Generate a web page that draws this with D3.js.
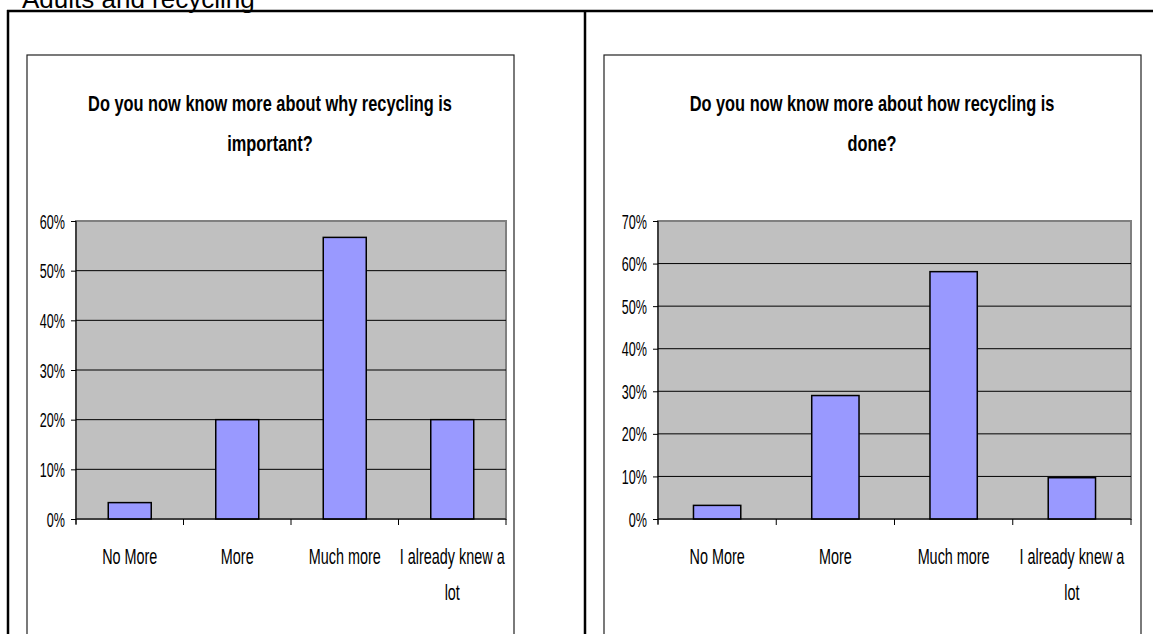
<!DOCTYPE html>
<html>
<head>
<meta charset="utf-8">
<script src="https://cdn.jsdelivr.net/npm/d3@7/dist/d3.min.js"></script>
<style>
  html, body { margin: 0; padding: 0; background: #fff; }
  svg { display: block; }
</style>
</head>
<body>
<svg id="chart" width="1153" height="634"></svg>
<script>
// ---- data ----
const pageHeading = "Adults and recycling";
const categories = ["No More", "More", "Much more", "I already knew a lot"];
const categoryLines = [["No More"], ["More"], ["Much more"], ["I already knew a", "lot"]];
const titleWhy = ["Do you now know more about why recycling is", "important?"];
const titleHow = ["Do you now know more about how recycling is", "done?"];
const valuesWhy = [0.033, 0.20, 0.567, 0.20];
const valuesHow = [0.032, 0.29, 0.581, 0.097];
const ticksWhy = [0, 0.1, 0.2, 0.3, 0.4, 0.5, 0.6];
const ticksHow = [0, 0.1, 0.2, 0.3, 0.4, 0.5, 0.6, 0.7];

// ---- drawing ----
const svg = d3.select("#chart");
const FONT = "'Liberation Sans', Arial, sans-serif";

function scaledText(g, x, y, str, opts) {
  return g.append("text")
    .attr("transform", `translate(${x},${y}) scale(${opts.sx},1)`)
    .attr("text-anchor", opts.anchor || "middle")
    .attr("font-family", FONT)
    .attr("font-size", opts.size)
    .attr("font-weight", opts.weight || "normal")
    .attr("fill", "#000")
    .text(str);
}

// page heading (cut at the top)
svg.append("text")
  .attr("x", 22).attr("y", 8)
  .attr("font-family", FONT).attr("font-size", 26)
  .attr("fill", "#000")
  .text(pageHeading);

// outer table lines
svg.append("line").attr("x1", 7).attr("x2", 1153).attr("y1", 11).attr("y2", 11)
  .attr("stroke", "#000").attr("stroke-width", 2.5);
svg.append("line").attr("x1", 8).attr("x2", 8).attr("y1", 10).attr("y2", 634)
  .attr("stroke", "#000").attr("stroke-width", 2.5);
svg.append("line").attr("x1", 585).attr("x2", 585).attr("y1", 10).attr("y2", 634)
  .attr("stroke", "#000").attr("stroke-width", 2.5);

function drawChart(cfg) {
  const g = svg.append("g");
  g.append("rect")
    .attr("x", cfg.box[0]).attr("y", 55)
    .attr("width", cfg.box[1] - cfg.box[0]).attr("height", 700)
    .attr("fill", "#fff").attr("stroke", "#222").attr("stroke-width", 1.2);

  cfg.title.forEach((line, i) => {
    scaledText(g, cfg.titleX, 111 + i * 40, line, { size: 22, sx: 0.745, weight: "bold" });
  });

  const x = d3.scaleBand().domain(categories).range([cfg.plot[0], cfg.plot[1]]).paddingInner(0).paddingOuter(0);
  const y = d3.scaleLinear().domain([0, d3.max(cfg.ticks)]).range([519, 221]);

  g.append("rect")
    .attr("x", cfg.plot[0]).attr("y", y(d3.max(cfg.ticks)))
    .attr("width", cfg.plot[1] - cfg.plot[0]).attr("height", y(0) - y(d3.max(cfg.ticks)))
    .attr("fill", "#C0C0C0").attr("stroke", "#808080").attr("stroke-width", 2);

  g.selectAll(".grid").data(cfg.ticks.filter(t => t > 0 && t < d3.max(cfg.ticks)))
    .join("line")
    .attr("x1", cfg.plot[0]).attr("x2", cfg.plot[1])
    .attr("y1", d => y(d)).attr("y2", d => y(d))
    .attr("stroke", "#000").attr("stroke-width", 1);

  const bw = x.bandwidth() * 0.4;
  g.selectAll(".bar").data(categories.map((c, i) => ({ c, v: cfg.values[i] })))
    .join("rect")
    .attr("x", d => x(d.c) + (x.bandwidth() - bw) / 2)
    .attr("y", d => y(d.v))
    .attr("width", bw)
    .attr("height", d => y(0) - y(d.v))
    .attr("fill", "#9999FF").attr("stroke", "#000").attr("stroke-width", 1.5);

  const yAxis = d3.axisLeft(y).tickValues(cfg.ticks).tickSize(5).tickPadding(7)
    .tickFormat(d3.format(".0%"));
  const ya = g.append("g").attr("transform", `translate(${cfg.plot[0]},0)`).call(yAxis);
  ya.select(".domain").attr("stroke", "#000").attr("d", `M0,${y(d3.max(cfg.ticks))}V${y(0) + 5}`);
  ya.selectAll(".tick line").attr("stroke", "#000");
  ya.selectAll(".tick text").each(function (d) {
    const t = d3.select(this);
    const label = t.text();
    const ty = y(d);
    t.remove();
    scaledText(g, cfg.plot[0] - 11, ty + 7.5, label, { size: 21, sx: 0.6, anchor: "end" });
  });

  const xa = g.append("g");
  xa.append("line").attr("x1", cfg.plot[0]).attr("x2", cfg.plot[1])
    .attr("y1", y(0)).attr("y2", y(0)).attr("stroke", "#000").attr("stroke-width", 1);
  const bounds = categories.map(c => x(c)).concat([x(categories[categories.length - 1]) + x.bandwidth()]);
  xa.selectAll(".xt").data(bounds).join("line")
    .attr("x1", d => d).attr("x2", d => d)
    .attr("y1", y(0)).attr("y2", y(0) + 6)
    .attr("stroke", "#000").attr("stroke-width", 1);
  categories.forEach((c, i) => {
    categoryLines[i].forEach((line, j) => {
      scaledText(g, x(c) + x.bandwidth() / 2, 564 + j * 36, line, { size: 22, sx: 0.655 });
    });
  });
}

drawChart({ box: [27, 514], plot: [76, 506], titleX: 270, title: titleWhy, values: valuesWhy, ticks: ticksWhy });
drawChart({ box: [604, 1141], plot: [658, 1131], titleX: 872, title: titleHow, values: valuesHow, ticks: ticksHow });
</script>
</body>
</html>
